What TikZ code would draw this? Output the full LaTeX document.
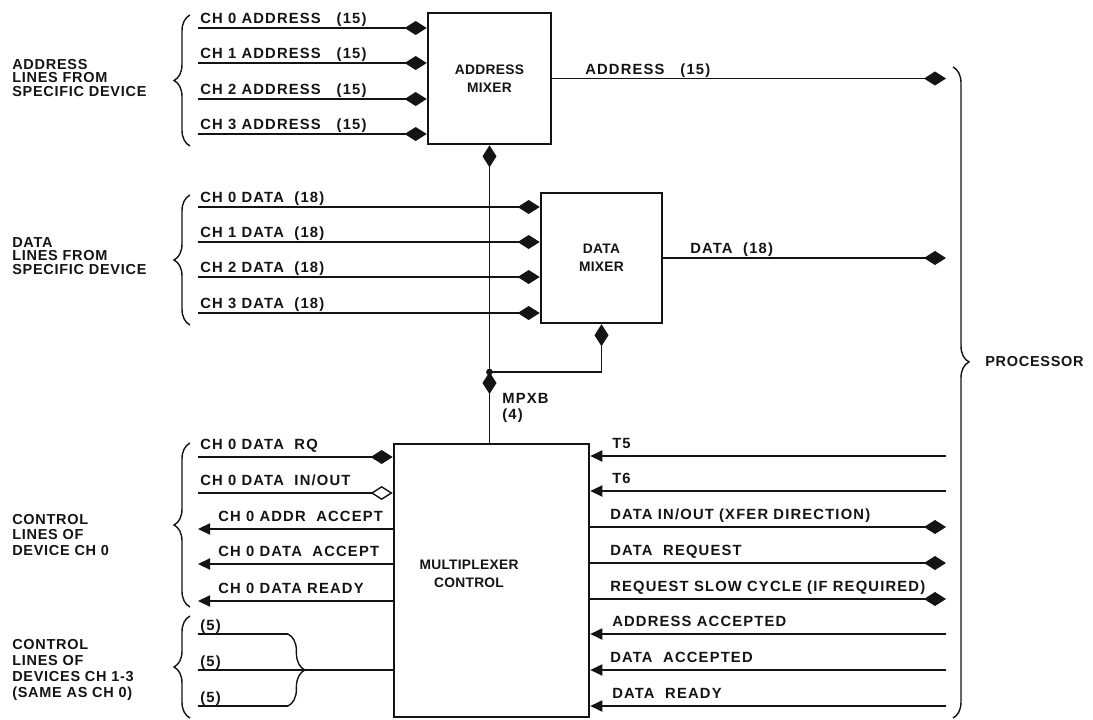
\documentclass[tikz,border=0pt]{standalone}
\usepackage{fontspec}
\setmainfont{Liberation Sans}[LetterSpace=8]
\newfontfamily\grpfont{Liberation Sans}[LetterSpace=5]
\newfontfamily\blkfont{Liberation Sans}[LetterSpace=2]
\usetikzlibrary{arrows.meta,decorations.pathreplacing}
\definecolor{Ink}{RGB}{20,20,20}
\tikzset{
  nd_blk/.style={
    rectangle, draw=Ink, line width=1.7pt, inner sep=0pt,
    align=center, text=Ink, font=\blkfont\fontsize{9.8}{12.5}\selectfont\bfseries},
  nd_sig/.style={
    anchor=base west, inner sep=0pt, text=Ink,
    font=\fontsize{10.5}{11.5}\selectfont\bfseries},
  nd_grp/.style={
    anchor=west, inner sep=0pt, align=left, text=Ink,
    font=\grpfont\fontsize{10.3}{9.8}\selectfont\bfseries},
  ln/.style={draw=Ink, line width=1pt},
  ln_dia/.style={ln, -{Diamond[length=0.55cm,width=0.35cm]}},
  ln_odia/.style={ln, -{Diamond[open,length=0.55cm,width=0.35cm]}},
  ln_tri/.style={ln, -{Triangle[length=0.3cm,width=0.28cm]}},
  brc/.style={ln, decorate, decoration={brace,amplitude=0.4cm}},
}

\begin{document}
\begin{tikzpicture}[x=0.025cm,y=-0.025cm]
\useasboundingbox (0,0) rectangle (1093,719);

%% blocks
\node[nd_blk, minimum width=3.08cm, minimum height=3.28cm] at (489.5,78.5) (AM){ADDRESS\\MIXER};
\node[nd_blk, minimum width=3.03cm, minimum height=3.25cm] at (601.5,258)  (DM){DATA\\MIXER};
\node[nd_blk, minimum width=4.88cm, minimum height=6.83cm] at (491.5,580.5) (MC){};
\node[nd_blk, draw=none] at (469,574) (MCt){MULTIPLEXER\\CONTROL};
\coordinate (PR) at (946,0);

%% address + data lines from device
\foreach \y/\n in {28/0,63/1,99/2,134/3}{
  \coordinate (a\n) at (198,\y);
  \draw[ln_dia] (a\n) -- (a\n -| AM.west);
  \node[nd_sig] at (200,\y-5) (la\n){CH \n\ ADDRESS~~~(15)};
}
\foreach \y/\n in {207/0,242/1,277/2,313/3}{
  \coordinate (d\n) at (198,\y);
  \draw[ln_dia] (d\n) -- (d\n -| DM.west);
  \node[nd_sig] at (200,\y-5) (ld\n){CH \n\ DATA~ (18)};
}

%% to processor
\draw[ln_dia] (AM.east) -- (AM.east -| PR);
\draw[ln_dia] (DM.east) -- (DM.east -| PR);
\node[nd_sig] at (585,74)  (lpa){ADDRESS~~~(15)};
\node[nd_sig] at (690,253) (lpd){DATA~ (18)};

%% MPXB bus
\coordinate (J) at (AM.south |- 0,372);
\draw[ln_dia] (J) -- (AM.south);
\draw[ln_dia] (J) -- (J -| DM.south) -- (DM.south);
\draw[ln_dia] (J |- MC.north) -- (J);
\fill[Ink] (J) circle[radius=2.4pt];
\node[nd_sig, anchor=north west, align=left] at (502,393) (MX){MPXB\\(4)};

%% control lines ch 0
\foreach \y/\n in {457/0,493/1,529/2,564/3,601/4}
  {\coordinate (c\n) at (198,\y);}
\draw[ln_dia]  (c0) -- (c0 -| MC.west);
\draw[ln_odia] (c1) -- (c1 -| MC.west);
\foreach \n in {2,3,4}
  {\draw[ln_tri] (c\n -| MC.west) -- (c\n);}
\node[nd_sig] at (200,449) (lc0){CH 0 DATA~ RQ};
\node[nd_sig] at (200,485) (lc1){CH 0 DATA~ IN/OUT};
\node[nd_sig] at (218,521) (lc2){CH 0 ADDR~ ACCEPT};
\node[nd_sig] at (218,556) (lc3){CH 0 DATA~ ACCEPT};
\node[nd_sig] at (218,593) (lc4){CH 0 DATA READY};

%% control lines ch 1-3
\foreach \y/\n in {634/1,670/2,706/3}{
  \coordinate (g\n) at (198,\y);
  \node[nd_sig] at (200,\y-4) (lg\n){(5)};
}
\coordinate (gb1) at (288,634);
\coordinate (gb3) at (288,706);
\draw[ln] (g1) -- (gb1);
\draw[ln] (g3) -- (gb3);
\draw[brc, decoration={amplitude=0.42cm}] (gb1) -- (gb3);
\draw[ln] (g2) -- (g2 -| MC.west);

%% processor side
\foreach \y/\n in {456/0,491/1,527/2,563/3,599/4,634/5,670/6,706/7}
  {\coordinate (r\n) at (946,\y);}
\foreach \n in {0,1,5,6,7}
  {\draw[ln_tri] (r\n) -- (r\n -| MC.east);}
\foreach \n in {2,3,4}
  {\draw[ln_dia] (r\n -| MC.east) -- (r\n);}
\node[nd_sig] at (612,448) (lr0){T5};
\node[nd_sig] at (612,483) (lr1){T6};
\node[nd_sig] at (610,519) (lr2){DATA IN/OUT (XFER DIRECTION)};
\node[nd_sig] at (610,555) (lr3){DATA~ REQUEST};
\node[nd_sig] at (610,591) (lr4){REQUEST SLOW CYCLE (IF REQUIRED)};
\node[nd_sig] at (612,626) (lr5){ADDRESS ACCEPTED};
\node[nd_sig] at (610,662) (lr6){DATA~ ACCEPTED};
\node[nd_sig] at (612,698) (lr7){DATA~ READY};

%% braces + group labels
\draw[brc] (190,146) -- (190,15);
\draw[brc] (190,325) -- (190,195);
\draw[brc] (190,607) -- (190,443);
\draw[brc] (190,718) -- (190,616);
\draw[brc, decoration={aspect=0.453}] (953,67) -- (953,718);
\node[nd_grp] at (12,78)  (gA){ADDRESS\\LINES FROM\\SPECIFIC DEVICE};
\node[nd_grp] at (12,256) (gD){DATA\\LINES FROM\\SPECIFIC DEVICE};
\node[nd_grp, font=\grpfont\fontsize{10.3}{11.2}\selectfont\bfseries] at (12,535) (gC){CONTROL\\LINES OF\\DEVICE CH 0};
\node[nd_grp, font=\grpfont\fontsize{10.3}{11.2}\selectfont\bfseries] at (12,670) (gL){CONTROL\\LINES OF\\DEVICES CH 1-3\\(SAME AS CH 0)};
\node[nd_grp] at (985,362) (gP){PROCESSOR};

\end{tikzpicture}
\end{document}
